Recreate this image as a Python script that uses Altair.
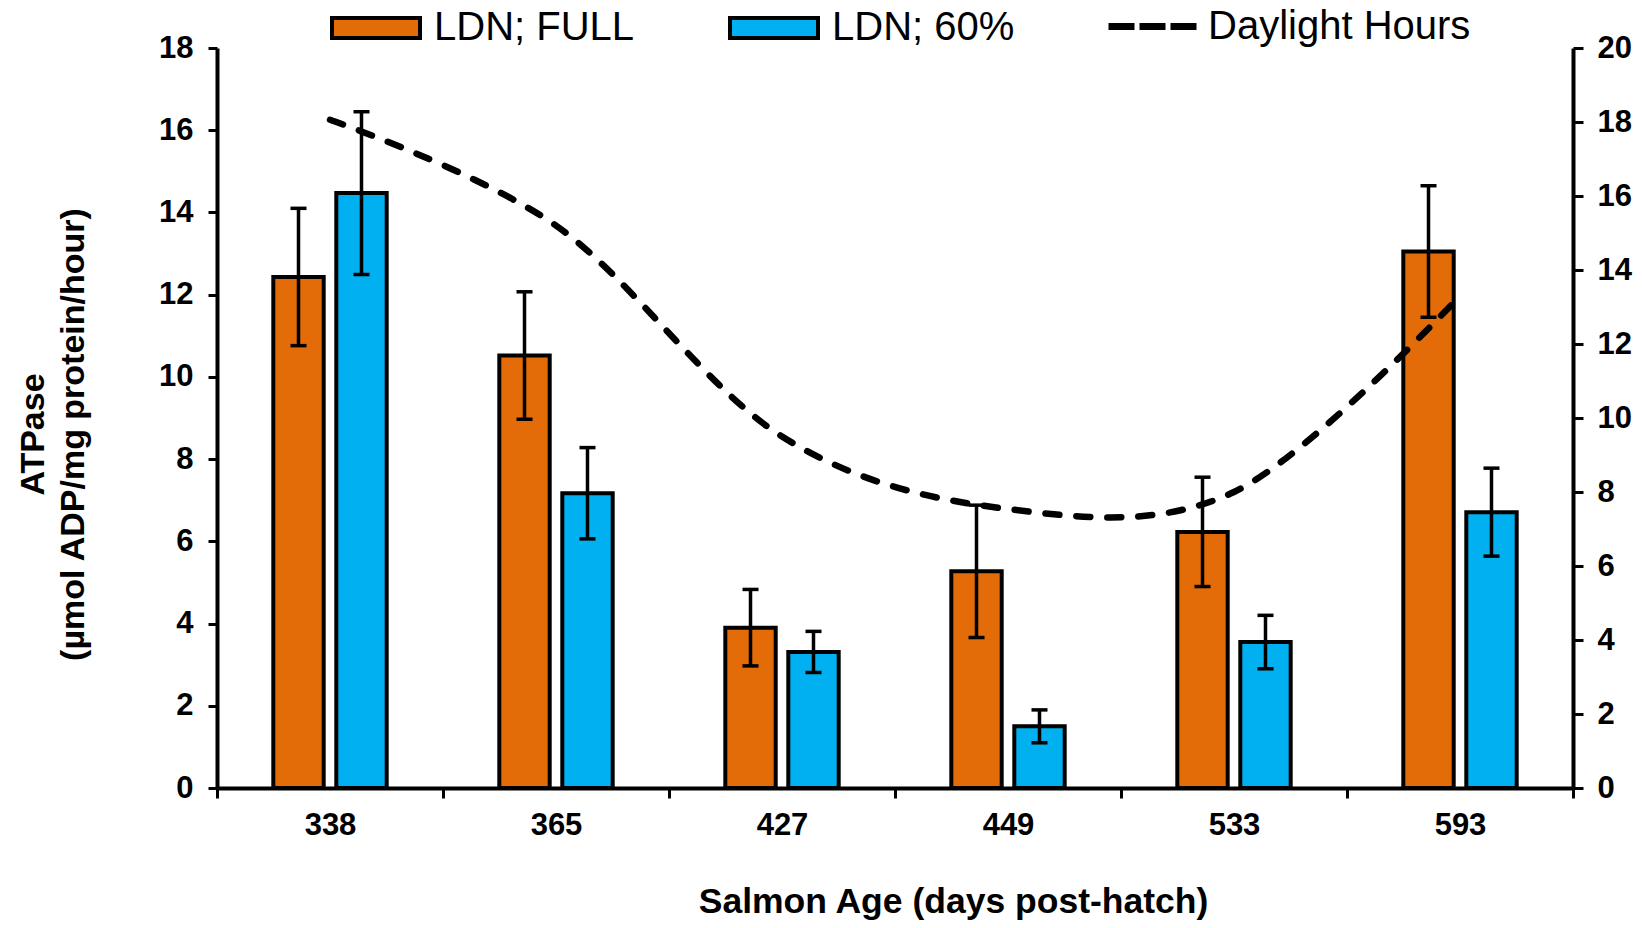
import altair as alt
import pandas as pd

# ---- data ----
ages = ["338", "365", "427", "449", "533", "593"]
series_names = ["LDN; FULL", "LDN; 60%"]
full_mean = [12.43, 10.52, 3.90, 5.27, 6.23, 13.05]
full_err = [1.67, 1.55, 0.93, 1.61, 1.33, 1.60]
p60_mean = [14.47, 7.17, 3.31, 1.50, 3.55, 6.71]
p60_err = [1.98, 1.11, 0.50, 0.40, 0.65, 1.07]
daylight = [18.06, 15.2, 9.5, 7.54, 8.0, 13.3]
colors = ["#E36C09", "#00B0F0"]
line_label = "Daylight Hours"

rows = []
for a, m, e in zip(ages, full_mean, full_err):
    rows.append({"age": a, "series": series_names[0], "mean": m, "lo": m - e, "hi": m + e})
for a, m, e in zip(ages, p60_mean, p60_err):
    rows.append({"age": a, "series": series_names[1], "mean": m, "lo": m - e, "hi": m + e})
bar_df = pd.DataFrame(rows)
dl_df = pd.DataFrame({"age": ages, "hours": daylight, "label": line_label})

FONT = "Liberation Sans"

x_enc = alt.X(
    "age:N",
    sort=ages,
    scale=alt.Scale(paddingInner=0, paddingOuter=0),
    axis=alt.Axis(
        title="Salmon Age (days post-hatch)",
        labelAngle=0,
        tickBand="extent",
        tickSize=10,
        tickWidth=3,
        labelPadding=12,
        labelFontSize=31,
        labelFontWeight="bold",
        titleFontSize=35.5,
        titleFontWeight="bold",
        titleX=736,
        titleY=124,
        titleAlign="center",
        titleBaseline="alphabetic",
        domainWidth=4,
    ),
)
xoff = alt.XOffset(
    "series:N",
    scale=alt.Scale(domain=series_names, paddingInner=0.2, paddingOuter=0.894),
)

y_scale = alt.Scale(domain=[0, 18], nice=False, zero=True)
y_axis = alt.Axis(
    values=list(range(0, 19, 2)),
    title=["ATPase", "(µmol ADP/mg protein/hour)"],
    titleFontSize=34,
    titleFontWeight="bold",
    titleLineHeight=40,
    titleX=-174,
    titleY=386,
    titleAngle=270,
    titleAlign="center",
    titleBaseline="alphabetic",
    labelFontSize=31,
    labelFontWeight="bold",
    labelPadding=15,
    labelFlush=False,
    labelOverlap=False,
    tickSize=9,
    tickWidth=3,
    domainWidth=4,
)

y2_scale = alt.Scale(domain=[0, 20], nice=False, zero=True)
y2_axis = alt.Axis(
    orient="right",
    values=list(range(0, 21, 2)),
    title=None,
    labelFontSize=31,
    labelFontWeight="bold",
    labelPadding=14,
    labelFlush=False,
    labelOverlap=False,
    tickSize=10,
    tickWidth=3,
    domainWidth=4,
)

base = alt.Chart(bar_df)

bars = base.mark_bar(stroke="black", strokeWidth=4, opacity=1).encode(
    x=x_enc,
    xOffset=xoff,
    y=alt.Y("mean:Q", scale=y_scale, axis=y_axis),
    color=alt.Color(
        "series:N",
        scale=alt.Scale(domain=series_names, range=colors),
        legend=alt.Legend(
            title=None,
            orient="none",
            legendX=113,
            legendY=-66,
            direction="horizontal",
            padding=0,
            symbolType="M-1,-0.227H1V0.227H-1Z",
            symbolSize=7744,
            symbolStrokeColor="black",
            symbolStrokeWidth=4,
            symbolOpacity=1,
            labelFont=FONT,
            labelFontSize=40,
            labelColor="black",
            labelLimit=600,
            labelOffset=12,
            columnPadding=87,
        ),
    ),
)

err = base.mark_rule(color="black", strokeWidth=3.5).encode(
    x=x_enc,
    xOffset=xoff,
    y=alt.Y("lo:Q", scale=y_scale, axis=y_axis),
    y2="hi:Q",
)
cap_hi = base.mark_tick(color="black", thickness=3.5, size=16, opacity=1).encode(
    x=x_enc, xOffset=xoff, y=alt.Y("hi:Q", scale=y_scale, axis=y_axis)
)
cap_lo = base.mark_tick(color="black", thickness=3.5, size=16, opacity=1).encode(
    x=x_enc, xOffset=xoff, y=alt.Y("lo:Q", scale=y_scale, axis=y_axis)
)

left = alt.layer(bars, err, cap_hi, cap_lo)

line = alt.Chart(dl_df).mark_line(
    color="black",
    strokeWidth=6.5,
    strokeDash=[14, 17],
    strokeCap="round",
    interpolate="cardinal",
    tension=0,
).encode(
    x=x_enc,
    y=alt.Y("hours:Q", scale=y2_scale, axis=y2_axis),
)

legend_line = alt.Chart(dl_df.head(1)).mark_line(
    strokeWidth=7, strokeDash=[26, 5]
).encode(
    x=x_enc,
    y=alt.Y("hours:Q", scale=y2_scale, axis=y2_axis),
    stroke=alt.Stroke(
        "label:N",
        scale=alt.Scale(domain=[line_label], range=["black"]),
        legend=alt.Legend(
            title=None,
            orient="none",
            legendX=888,
            legendY=-69,
            direction="horizontal",
            padding=0,
            symbolType="stroke",
            symbolSize=7744,
            symbolStrokeWidth=7,
            symbolDash=[26, 5],
            symbolStrokeColor="black",
            labelFont=FONT,
            labelFontSize=40,
            labelColor="black",
            labelLimit=600,
            labelOffset=8,
        ),
    ),
)

right = alt.layer(line, legend_line)

chart = (
    alt.layer(left, right)
    .resolve_scale(y="independent", color="independent", stroke="independent")
    .properties(
        width=1356,
        height=740,
        autosize=alt.AutoSizeParams(type="none"),
        padding={"left": 209, "top": 40, "right": 61, "bottom": 132},
    )
    .configure(font=FONT)
    .configure_view(stroke=None)
    .configure_axis(
        grid=False,
        domainColor="black",
        tickColor="black",
        labelColor="black",
        titleColor="black",
        labelFont=FONT,
        titleFont=FONT,
    )
)

chart.save("out.html", embed_options={"renderer": "svg", "actions": False})
